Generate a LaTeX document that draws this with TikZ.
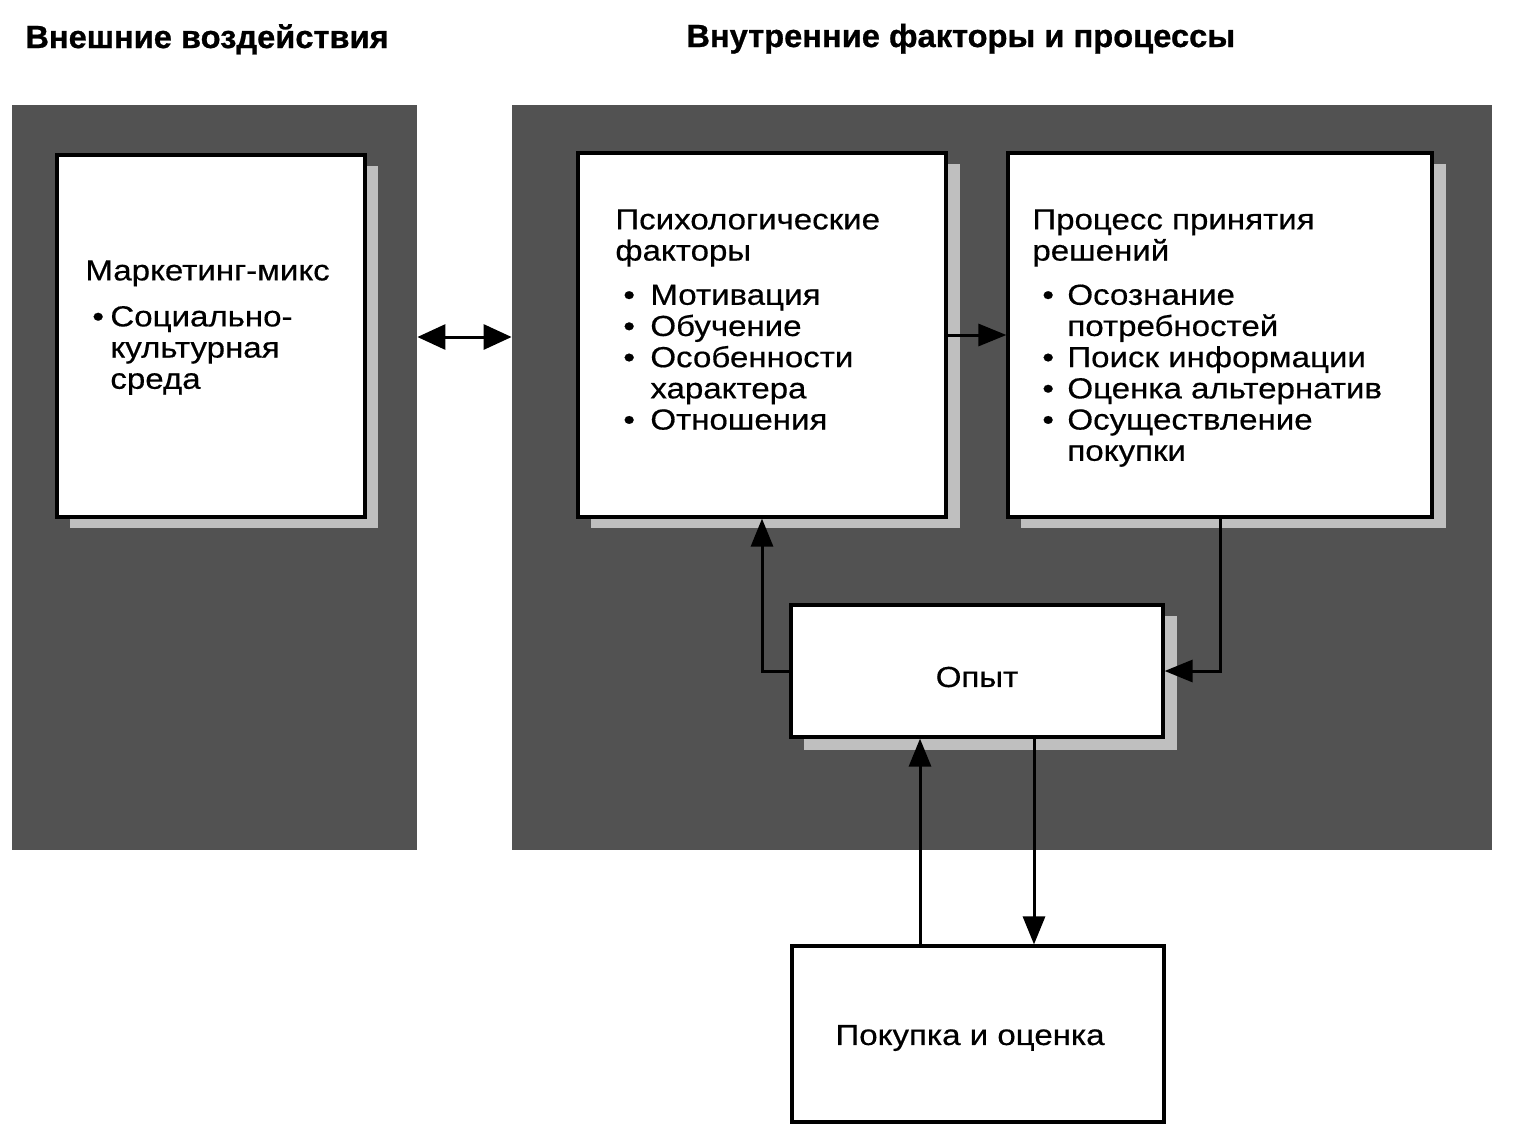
\documentclass[tikz,border=0pt]{standalone}
\usepackage{fontspec}
\setmainfont{Liberation Sans}[FakeStretch=1.14,FakeBold=0.5]
\newfontfamily\titlefont{Liberation Sans}[FakeStretch=1.02,FakeBold=0.8]
\usetikzlibrary{arrows.meta,fit}
\newcommand\bulbox[2]{\hspace*{#1}\makebox[#2][l]{\textbullet}}
\begin{document}
\begin{tikzpicture}[x=0.5pt,y=-0.5pt,
  panel/.style={fill=black!68, draw=none, inner sep=0pt},
  wbox/.style={draw=black, line width=1.6pt, fill=white, inner sep=0pt},
  shadowc/.style={fill=black!25},
  conn/.style={line width=1.5pt, -{Triangle[length=14pt,width=11pt]}},
  lbl/.style={font=\fontsize{14.5}{15.6}\selectfont, inner sep=0pt},
  body/.style={font=\fontsize{14.5}{15.6}\selectfont, align=left, inner sep=0pt, anchor=north west},
  ttl/.style={font=\titlefont\bfseries\fontsize{16}{18}\selectfont, inner sep=0pt, anchor=base west}]
\useasboundingbox (0,0) rectangle (1516,1136);
\fill[white] (0,0) rectangle (1516,1136);
% titles
\node[ttl] (t1) at (25,48) {Внешние воздействия};
\node[ttl] (t2) at (686,47) {Внутренние факторы и процессы};
% panels
\node[panel, fit={(12,105)(417,850)}] (left) {};
\node[panel, fit={(512,105)(1492,850)}] (right) {};
% shadows
\fill[shadowc] (70,166) rectangle (378,528);
\fill[shadowc] (591,164) rectangle (960,528);
\fill[shadowc] (1021,164) rectangle (1446,528);
\fill[shadowc] (804,616) rectangle (1177,750);
% boxes
\node[wbox, fit={(57,155)(365,517)}] (mk) {};
\node[wbox, fit={(578,153)(946,517)}] (psy) {};
\node[wbox, fit={(1008,153)(1432,517)}] (proc) {};
\node[wbox, fit={(791,605)(1163,737)}] (opyt) {};
\node[wbox, fit={(792,946)(1164,1122)}] (pk) {};
\node[lbl] (opyttxt) at (977,677) {Опыт};
\node[lbl] (pktxt) at (970,1038) {Покупка и оценка};
% texts
\node[body] (mktxt) at (85,260) {Маркетинг-микс\\[7.4pt]
  \bulbox{3.5pt}{9pt}Социально-\\
  \hspace*{12.5pt}культурная\\
  \hspace*{12.5pt}среда};
\node[body] (psytxt) at (615,209) {Психологические\\
  факторы\\[6.5pt]
  \bulbox{4pt}{13.5pt}Мотивация\\
  \bulbox{4pt}{13.5pt}Обучение\\
  \bulbox{4pt}{13.5pt}Особенности\\
  \hspace*{17.5pt}характера\\
  \bulbox{4pt}{13.5pt}Отношения};
\node[body] (proctxt) at (1032,209) {Процесс принятия\\
  решений\\[6.5pt]
  \bulbox{5pt}{12.5pt}Осознание\\
  \hspace*{17.5pt}потребностей\\
  \bulbox{5pt}{12.5pt}Поиск информации\\
  \bulbox{5pt}{12.5pt}Оценка альтернатив\\
  \bulbox{5pt}{12.5pt}Осуществление\\
  \hspace*{17.5pt}покупки};
% connectors
\draw[line width=1.5pt, {Triangle[length=14pt,width=12.5pt]}-{Triangle[length=14pt,width=12.5pt]}]
  (left.east |- 0,337) -- (right.west |- 0,337);
\draw[conn] (psy.east |- 0,335) -- (proc.west |- 0,335);
\draw[conn] (opyt.west) -| (psy.south);
\draw[conn] (proc.south) |- (opyt.east);
\draw[conn] (pk.north -| 920,0) -- (opyt.south -| 920,0);
\draw[conn] (opyt.south -| 1034,0) -- (pk.north -| 1034,0);
\end{tikzpicture}
\end{document}
